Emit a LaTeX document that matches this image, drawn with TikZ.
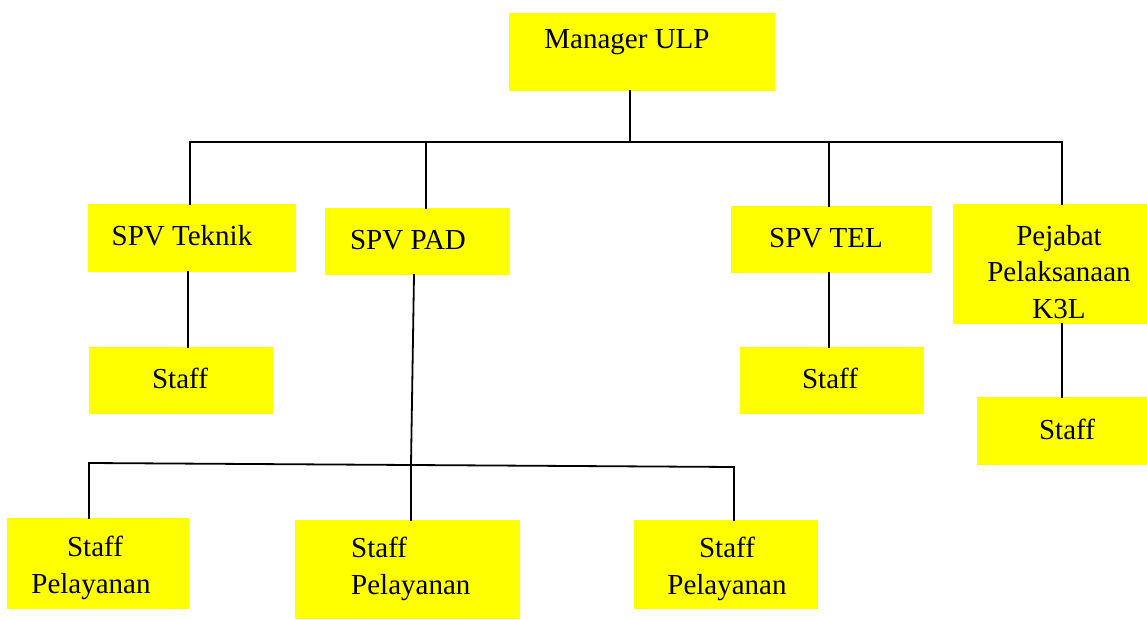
\documentclass[tikz,border=0pt]{standalone}
\usepackage{fontspec}
\setmainfont{Liberation Serif}
\begin{document}
\begin{tikzpicture}[x=1pt,y=-1pt,
  box/.style={fill={rgb,255:red,255;green,255;blue,0}, draw=none, inner sep=0pt, outer sep=0pt},
  lbl/.style={inner sep=0pt, font=\fontsize{29}{36.5}\selectfont, align=center},
  conn/.style={line width=1.8pt, line cap=rect}]
\useasboundingbox (0,0) rectangle (1147,620);
% boxes
\newcommand{\orgbox}[5]{\path[box] (#2,#3) rectangle (#4,#5) coordinate (#1-se); \node[inner sep=0pt, outer sep=0pt, minimum width={#4-#2}, minimum height={#5-#3}] (#1) at ({(#2+#4)/2},{(#3+#5)/2}) {};}
\orgbox{mgr}{509}{13}{775}{91}
\orgbox{tek}{88}{204}{296}{272}
\orgbox{pad}{325}{208}{510}{275}
\orgbox{tel}{731}{206}{932}{273}
\orgbox{k3l}{953}{204}{1147}{324}
\orgbox{stek}{89}{347}{273}{414}
\orgbox{stel}{740}{347}{924}{414}
\orgbox{sk3l}{977}{397}{1147}{465}
\orgbox{sp1}{7}{518}{189}{609}
\orgbox{sp2}{295}{520}{520}{619}
\orgbox{sp3}{634}{520}{818}{609}
% texts
\node[lbl] (tmgr) at (627,42) {Manager ULP};
\node[lbl] (ttek) at (182,236) {SPV Teknik};
\node[lbl] (tpad) at (408,240) {SPV PAD};
\node[lbl] (ttel) at (826,238) {SPV TEL};
\node[lbl] (tk3l) at (1059,272) {Pejabat\\Pelaksanaan\\K3L};
\node[lbl] (tstek) at (180,378) {Staff};
\node[lbl] (tstel) at (830,378) {Staff};
\node[lbl] (tsk3l) at (1067,429) {Staff};
\node[lbl] (tsp1) at (91,568) {\hspace*{8pt}Staff\\Pelayanan};
\node[lbl, align=left, anchor=west] (tsp2) at (351,569) {Staff\\Pelayanan};
\node[lbl] (tsp3) at (727,569) {Staff\\Pelayanan};
% bus coordinates
\coordinate (b0) at (630,142);
\coordinate (bt) at (190,142);
\coordinate (bp) at (426,142);
\coordinate (bl) at (829,142);
\coordinate (bk) at (1062,142);
\coordinate (c0) at (411,464);
\coordinate (cl) at (89,463);
\coordinate (cr) at (734,467);
\coordinate (cm) at (411,464);
% connectors
\draw[conn] (mgr.south -| b0) -- (b0);
\draw[conn] (bt) -- (bk);
\draw[conn] (bt) -- (tek.north -| bt);
\draw[conn] (bp) -- (pad.north -| bp);
\draw[conn] (bl) -- (tel.north -| bl);
\draw[conn] (bk) -- (k3l.north -| bk);
\draw[conn] (tek.south -| 188,0) -- (stek.north -| 188,0);
\draw[conn] (tel.south -| bl) -- (stel.north -| bl);
\draw[conn] (k3l.south -| bk) -- (sk3l.north -| bk);
\draw[conn] (pad.south -| 414,0) -- (c0);
\draw[conn] (cl) -- (cr);
\draw[conn] (cl) -- (sp1.north -| cl);
\draw[conn] (cm) -- (sp2.north -| cm);
\draw[conn] (cr) -- (sp3.north -| cr);
\end{tikzpicture}
\end{document}
